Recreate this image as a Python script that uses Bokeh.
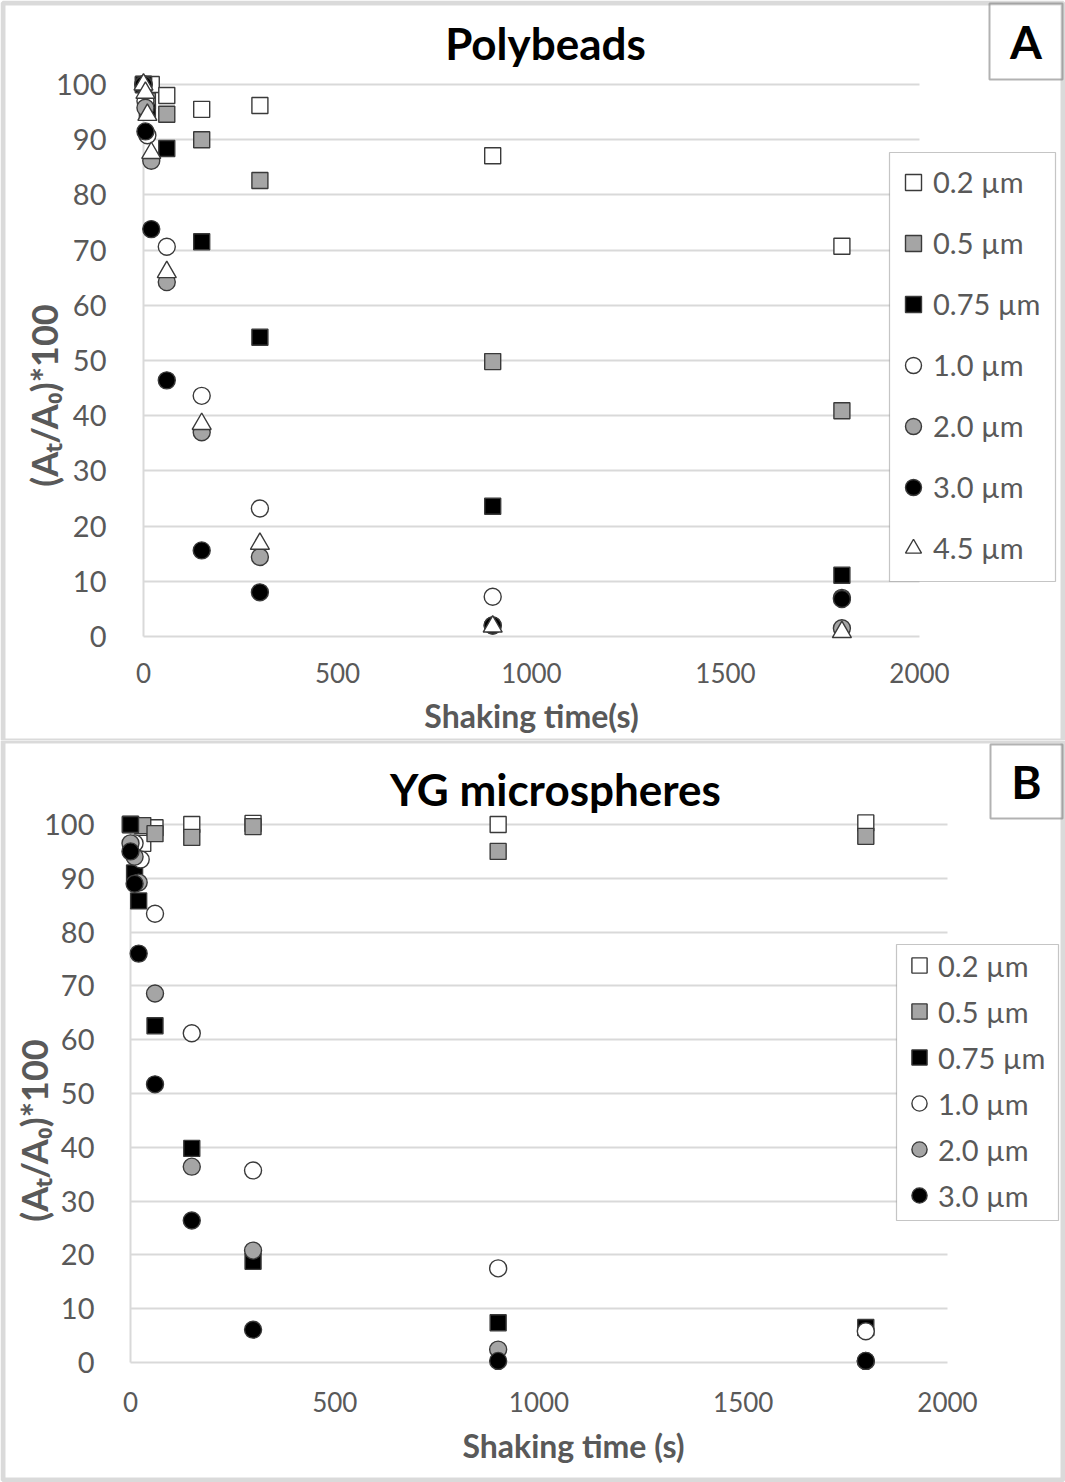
import math
from bokeh.plotting import figure
from bokeh.models import Range1d, FixedTicker, Legend, LegendItem, Label, BoxAnnotation
from bokeh.layouts import column
from bokeh.embed import file_html
from bokeh.resources import INLINE

# ---------------- data ----------------
x_ticks = [0, 500, 1000, 1500, 2000]
y_ticks = [0, 10, 20, 30, 40, 50, 60, 70, 80, 90, 100]

names_a = ["0.2 µm", "0.5 µm", "0.75 µm", "1.0 µm", "2.0 µm", "3.0 µm", "4.5 µm"]
names_b = ["0.2 µm", "0.5 µm", "0.75 µm", "1.0 µm", "2.0 µm", "3.0 µm"]

# Panel A - Polybeads (shaking time s, (At/A0)*100)
a_t_02 = [0, 20, 60, 150, 300, 900, 1800]
a_v_02 = [100, 100, 98.0, 95.5, 96.2, 87.1, 70.7]
a_t_05 = [0, 10, 60, 150, 300, 900, 1800]
a_v_05 = [100, 97.0, 94.6, 90.0, 82.6, 49.8, 40.9]
a_t_075 = [0, 10, 60, 150, 300, 900, 1800]
a_v_075 = [100, 95.0, 88.4, 71.5, 54.2, 23.6, 11.1]
a_t_10 = [0, 5, 10, 60, 150, 300, 900, 1800]
a_v_10 = [100, 97.0, 90.8, 70.6, 43.6, 23.2, 7.2, 7.0]
a_t_20 = [0, 5, 20, 60, 150, 300, 900, 1800]
a_v_20 = [100, 95.8, 86.2, 64.2, 37.0, 14.4, 2.0, 1.5]
a_t_30 = [0, 5, 20, 60, 150, 300, 900, 1800]
a_v_30 = [100, 91.5, 73.8, 46.4, 15.6, 8.0, 2.0, 6.8]
a_t_45 = [0, 5, 10, 20, 60, 150, 300, 900, 1800]
a_v_45 = [100, 98.5, 94.5, 87.6, 66.0, 38.5, 16.8, 1.8, 0.8]

# Panel B - YG microspheres
b_t_02 = [0, 30, 60, 150, 300, 900, 1800]
b_v_02 = [100, 96.5, 99.4, 100, 100.2, 100, 100.3]
b_t_05 = [0, 30, 60, 150, 300, 900, 1800]
b_v_05 = [100, 99.8, 98.3, 97.6, 99.6, 95.0, 97.8]
b_t_075 = [0, 10, 20, 60, 150, 300, 900, 1800]
b_v_075 = [100, 91.0, 85.8, 62.6, 39.8, 18.8, 7.4, 6.5]
b_t_10 = [10, 25, 60, 150, 300, 900, 1800]
b_v_10 = [96.5, 93.5, 83.4, 61.2, 35.7, 17.5, 5.8]
b_t_20 = [0, 10, 20, 60, 150, 300, 900, 1800]
b_v_20 = [96.5, 94.0, 89.2, 68.6, 36.4, 20.8, 2.4, 0.3]
b_t_30 = [0, 10, 20, 60, 150, 300, 900, 1800]
b_v_30 = [95.0, 89.0, 76.0, 51.7, 26.4, 6.1, 0.3, 0.3]

# ---------------- styling ----------------
markers = ["square", "square", "square", "circle", "circle", "circle", "triangle"]
fills = ["#ffffff", "#a5a5a5", "#000000", "#ffffff", "#a5a5a5", "#000000", "#ffffff"]
msizes = [16, 16, 16, 17, 17, 17, 19]
EDGE = "#3a3a3a"
GRID = "#d9d9d9"
TXT = "#595959"
FONT = "Lato"
BORDER = "#858585"

W = 1065


def build(title, ts, vs, names, g):
    H = g["h"]
    x0, x2, y100, y0 = g["x0"], g["x2000"], g["y100"], g["y0"]
    kx = 2000 / (x2 - x0)
    ky = 100 / (y0 - y100)
    # the frame fills the whole figure; axes are pinned at x=0 / y=0
    p = figure(width=W, height=H, output_backend="svg", toolbar_location=None,
               x_range=Range1d(-x0 * kx, (W - x0) * kx),
               y_range=Range1d((y0 - H) * ky, y0 * ky),
               min_border_left=0, min_border_right=0, min_border_top=0,
               min_border_bottom=0)
    p.outline_line_color = None
    p.background_fill_color = "white"
    p.border_fill_color = "white"

    p.xaxis.ticker = FixedTicker(ticks=x_ticks)
    p.yaxis.ticker = FixedTicker(ticks=y_ticks)
    p.xaxis.fixed_location = 0
    p.yaxis.fixed_location = 0
    for ax in (p.xaxis[0], p.yaxis[0]):
        ax.axis_line_color = None
        ax.major_tick_line_color = None
        ax.minor_tick_line_color = None
        ax.major_label_text_font = FONT
        ax.major_label_text_color = TXT
    p.xaxis.major_label_text_font_size = "26px"
    p.yaxis.major_label_text_font_size = "29px"
    p.xaxis.major_label_standoff = g["xstand"]
    p.yaxis.major_label_standoff = g["ystand"]

    yg, xg = p.ygrid[0], p.xgrid[0]
    yg.ticker = FixedTicker(ticks=y_ticks)
    xg.ticker = FixedTicker(ticks=[x_ticks[0]])
    for gr in (yg, xg):
        gr.grid_line_color = GRID
        gr.grid_line_width = 2
    if "cross_bounds" in yg.properties():
        yg.bounds = (y_ticks[0], y_ticks[-1])
        yg.cross_bounds = (x_ticks[0], x_ticks[-1])
        xg.bounds = (x_ticks[0], x_ticks[0])
        xg.cross_bounds = (y_ticks[0], y_ticks[-1])
    else:
        yg.visible = False
        xg.visible = False
        p.segment(x0=x_ticks[0], x1=x_ticks[-1], y0=y_ticks, y1=y_ticks,
                  line_color=GRID, line_width=2, level="underlay")
        p.segment(x0=x_ticks[0], x1=x_ticks[0], y0=y_ticks[0], y1=y_ticks[-1],
                  line_color=GRID, line_width=2, level="underlay")

    items = []
    for i, (t, v, nm) in enumerate(zip(ts, vs, names)):
        r = p.scatter(t, v, marker=markers[i], size=msizes[i], fill_color=fills[i],
                      line_color=EDGE, line_width=1.4)
        items.append(LegendItem(label=nm, renderers=[r]))

    def sy(ry):
        return H - ry

    def box(rect, fill, fill_alpha, line, lw):
        p.add_layout(BoxAnnotation(left=rect[0], right=rect[2], top=sy(rect[1]), bottom=sy(rect[3]),
                                   left_units="screen", right_units="screen", top_units="screen",
                                   bottom_units="screen", fill_color=fill, fill_alpha=fill_alpha,
                                   line_color=line, line_width=lw))

    def label(xy, text, size, color, angle=0.0):
        p.add_layout(Label(x=xy[0], y=sy(xy[1]), x_units="screen", y_units="screen",
                           text=text, angle=angle, text_align="center", text_baseline="middle",
                           text_font=FONT, text_font_style="bold",
                           text_font_size=size, text_color=color))

    # legend: frame box first, then the entries
    box(g["legend_box"], "white", 1.0, "#404040", 1.2)
    gh = g["gh"]
    first, pitch = g["item0"], g["pitch"]
    last = first + pitch * (len(items) - 1)
    leg = Legend(items=items, location=(g["glyph_x"] - gh / 2, sy(last + gh / 2)))
    leg.border_line_color = None
    leg.background_fill_alpha = 0.0
    leg.label_text_font = FONT
    leg.label_text_font_size = "29px"
    leg.label_text_color = TXT
    leg.glyph_width = gh
    leg.glyph_height = gh
    leg.label_height = gh
    leg.padding = 0
    leg.margin = 0
    leg.spacing = round(pitch - gh)
    leg.label_standoff = g["lstand"]
    p.add_layout(leg)

    # titles
    label(g["title"], title, "44px", "#000000")
    label(g["xlab"], g["xlabel"], "32px", TXT)
    label(g["ylab"], "(Aₜ/A₀)*100", "36px", TXT, angle=math.pi / 2)
    # panel badge
    b = g["badge"]
    box(b, "white", 1.0, "black", 2)
    label(((b[0] + b[2]) / 2, (b[1] + b[3]) / 2), g["badge_text"], "46px", "#000000")
    # grey panel border (thinner on the edge shared by the two panels)
    box(g["border"], None, 0.0, BORDER, 5)
    return p


geom_a = dict(h=740, x0=143, x2000=919, y100=84, y0=636, xstand=20, ystand=31,
              xlabel="Shaking time(s)", xlab=(531, 715), ylab=(43, 395),
              legend_box=(889, 152, 1055, 581), glyph_x=913, item0=180, pitch=61.3, gh=40,
              lstand=-1, title=(545, 42), badge=(989, 3, 1062, 79), badge_text="A",
              border=(2.5, 2.5, W - 2.5, 740.5))
geom_b = dict(h=742, x0=130, x2000=947, y100=84, y0=622, xstand=23, ystand=30,
              xlabel="Shaking time (s)", xlab=(573, 705), ylab=(33, 390),
              legend_box=(896, 204, 1058, 480), glyph_x=919, item0=225, pitch=46, gh=38,
              lstand=0, title=(555, 48), badge=(990, 4, 1062, 78), badge_text="B",
              border=(2.5, 0.5, W - 2.5, 739.5))

pa = build("Polybeads",
           [a_t_02, a_t_05, a_t_075, a_t_10, a_t_20, a_t_30, a_t_45],
           [a_v_02, a_v_05, a_v_075, a_v_10, a_v_20, a_v_30, a_v_45], names_a, geom_a)
pb = build("YG microspheres",
           [b_t_02, b_t_05, b_t_075, b_t_10, b_t_20, b_t_30],
           [b_v_02, b_v_05, b_v_075, b_v_10, b_v_20, b_v_30], names_b, geom_b)

layout = column(pa, pb, spacing=0)
open("out.html", "w").write(file_html(layout, INLINE))
